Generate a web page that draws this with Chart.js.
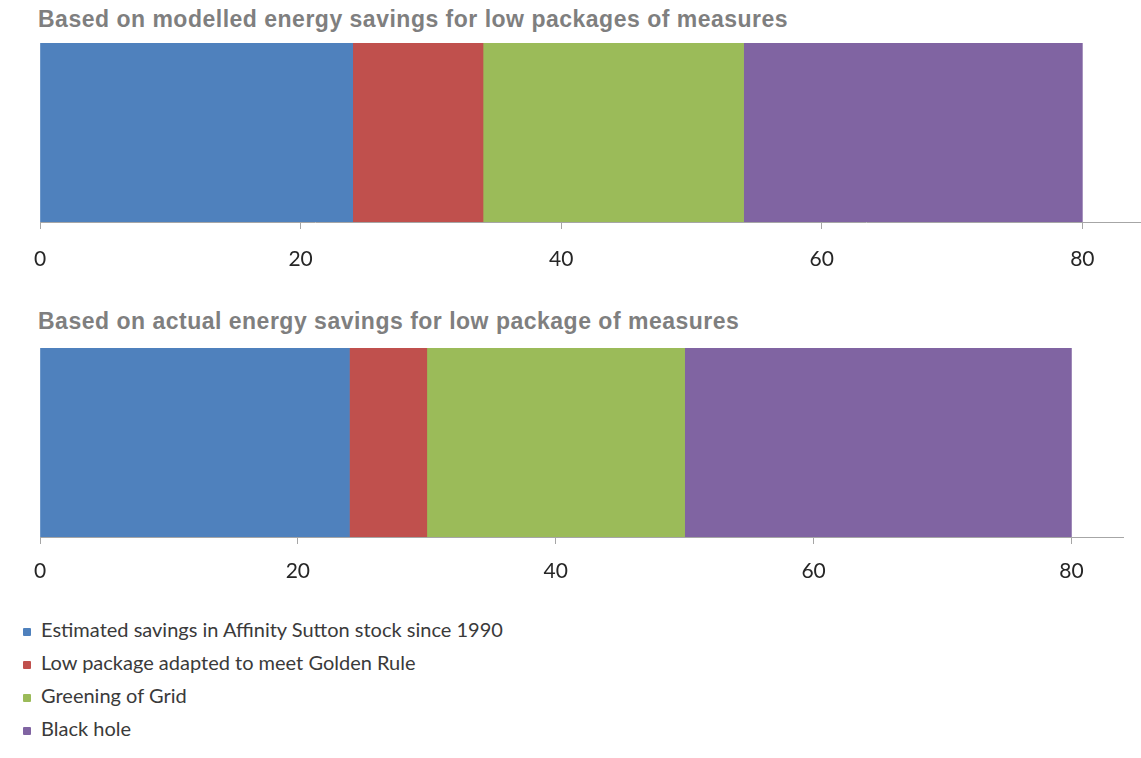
<!DOCTYPE html>
<html>
<head>
<meta charset="utf-8">
<script src="https://cdn.jsdelivr.net/npm/chart.js@4.4.1/dist/chart.umd.min.js"></script>
<style>
    body { margin: 0; background: #fff; width: 1141px; height: 758px; position: relative; overflow: hidden; }
    .chart-title { position: absolute; left: 38px; font: bold 23px "Liberation Sans", Arial, sans-serif; letter-spacing: 0.5px; color: #7f7f7f; white-space: nowrap; }
    .chart-box { position: absolute; left: 0; width: 1141px; }
    .legend { position: absolute; left: 23px; top: 616px; font: 20px Lato, sans-serif; color: #3a3a3a; }
    .legend-item { height: 33px; line-height: 26px; white-space: nowrap; }
    .legend-swatch { display: inline-block; width: 8px; height: 8px; border-radius: 1px; margin-right: 10px; vertical-align: 1px; }
</style>
</head>
<body>
<div class="chart-title" id="title1" style="top:6px;"></div>
<div class="chart-box" style="top:43px; height:250px;"><canvas id="chart1"></canvas></div>
<div class="chart-title" id="title2" style="top:308px;"></div>
<div class="chart-box" style="top:348px; height:250px;"><canvas id="chart2"></canvas></div>
<div class="legend" id="legend"></div>

<script>
// one entry per chart: [modelled, actual]
const chartTitles = [
    'Based on modelled energy savings for low packages of measures',
    'Based on actual energy savings for low package of measures'
];
const seriesNames = [
    'Estimated savings in Affinity Sutton stock since 1990',
    'Low package adapted to meet Golden Rule',
    'Greening of Grid',
    'Black hole'
];
const seriesColors = ['#4f81bd', '#c0504d', '#9bbb59', '#8064a2'];
const estimatedSavings = [24, 24];
const lowPackage = [10, 6];
const greeningOfGrid = [20, 20];
const blackHole = [26, 30];
const tickValues = [0, 20, 40, 60, 80];

const allSeries = [estimatedSavings, lowPackage, greeningOfGrid, blackHole];

function makeChart(canvasId, idx, axisMax, barHeight, boxHeight, rightPad, labelPad) {
    new Chart(document.getElementById(canvasId), {
        type: 'bar',
        data: {
            labels: [''],
            datasets: seriesNames.map((name, s) => ({
                label: name,
                data: [allSeries[s][idx]],
                backgroundColor: seriesColors[s],
                borderWidth: 0,
                barPercentage: 1,
                categoryPercentage: 1
            }))
        },
        options: {
            indexAxis: 'y',
            responsive: true,
            maintainAspectRatio: false,
            animation: false,
            layout: { padding: { left: 40, right: rightPad, top: 0, bottom: 0 } },
            plugins: {
                legend: { display: false },
                tooltip: { enabled: false }
            },
            scales: {
                y: { stacked: true, display: false },
                x: {
                    stacked: true,
                    min: 0,
                    max: axisMax,
                    afterBuildTicks: (scale) => {
                        scale.ticks = tickValues.map(v => ({ value: v }));
                    },
                    afterFit: (scale) => {
                        scale.height = boxHeight - barHeight;
                    },
                    grid: {
                        display: true,
                        drawOnChartArea: false,
                        drawTicks: true,
                        tickLength: 7,
                        color: '#a6a6a6'
                    },
                    border: { display: true, color: '#a6a6a6', width: 1 },
                    ticks: {
                        padding: labelPad,
                        color: '#262626',
                        font: { family: 'Lato', size: 21 },
                        maxRotation: 0,
                        autoSkip: false
                    }
                }
            }
        }
    });
}

document.getElementById('title1').textContent = chartTitles[0];
document.getElementById('title2').textContent = chartTitles[1];

makeChart('chart1', 0, 84.5, 179, 250, 0, 18);
makeChart('chart2', 1, 84, 189, 250, 18, 15);

const legend = document.getElementById('legend');
seriesNames.forEach((name, s) => {
    const item = document.createElement('div');
    item.className = 'legend-item';
    const sw = document.createElement('span');
    sw.className = 'legend-swatch';
    sw.style.background = seriesColors[s];
    item.appendChild(sw);
    item.appendChild(document.createTextNode(name));
    legend.appendChild(item);
});
</script>
</body>
</html>
